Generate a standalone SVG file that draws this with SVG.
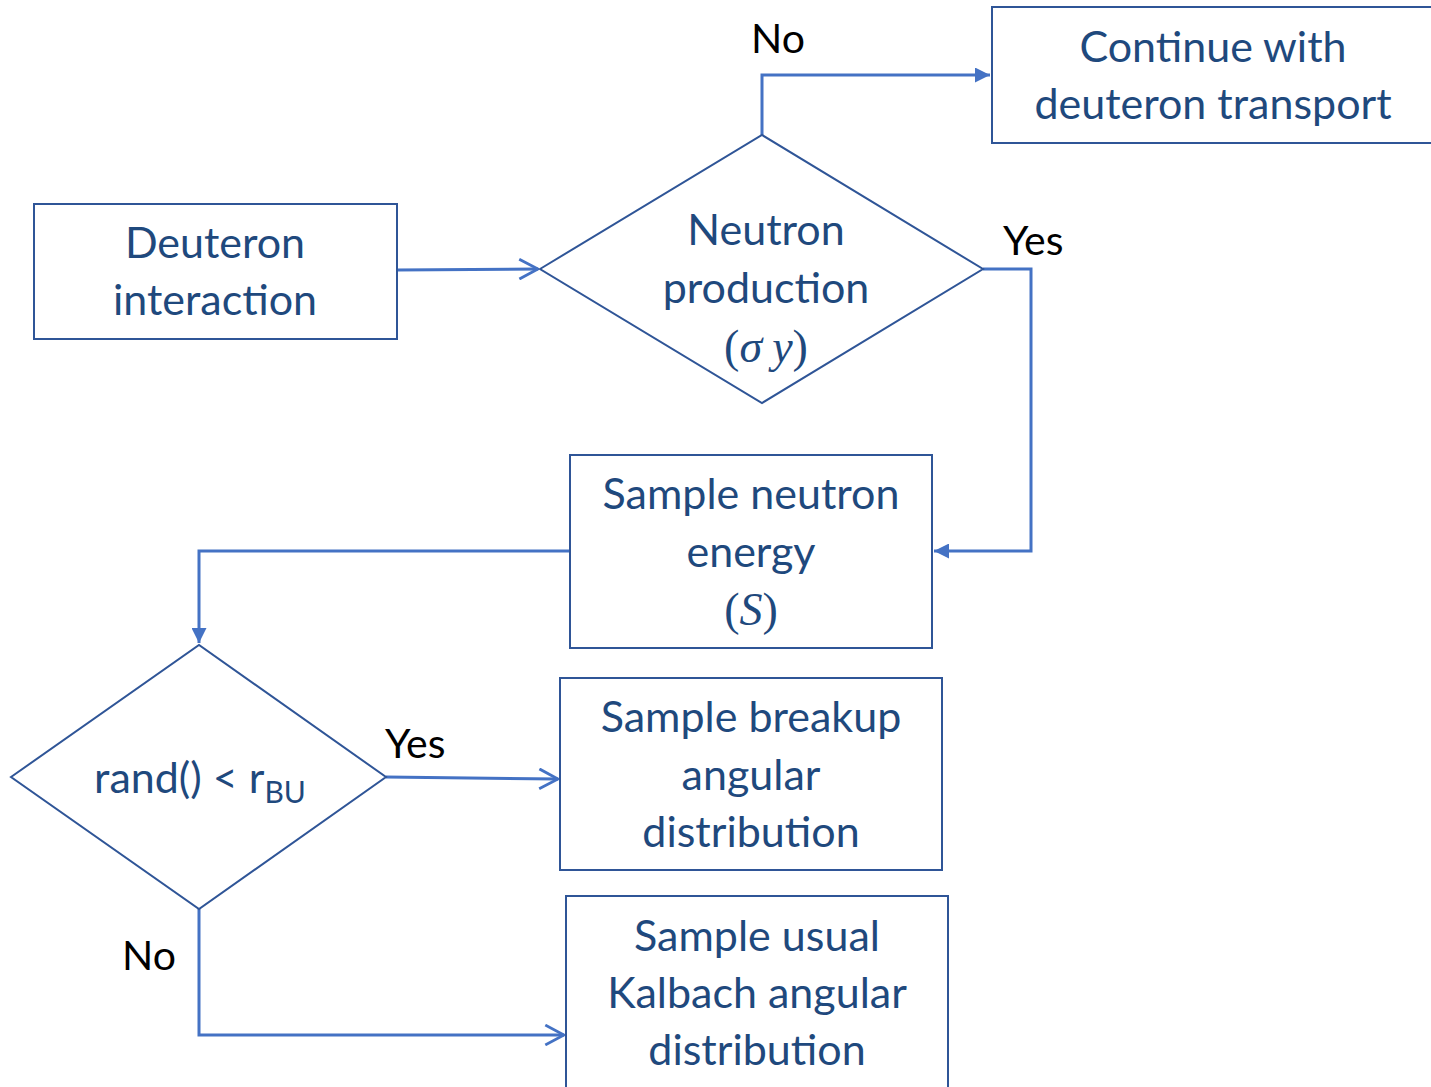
<svg xmlns="http://www.w3.org/2000/svg" width="1431" height="1087" viewBox="0 0 1431 1087">
<style>
.box{fill:#fff;stroke:#2F5597;stroke-width:2}
.t{font-family:Lato,"Liberation Sans",sans-serif;font-size:43px;fill:#1F497D;text-anchor:middle}
.mt{font-family:"Liberation Serif",serif;font-size:46px;fill:#1F497D;text-anchor:middle}
.m{font-style:italic}
.lbl{font-family:Lato,"Liberation Sans",sans-serif;font-size:41px;fill:#000}
.c{fill:none;stroke:#4472C4;stroke-width:3}
</style>
<defs>
<marker id="fa" viewBox="0 0 10 10" refX="10" refY="5" markerWidth="5" markerHeight="5" orient="auto" markerUnits="strokeWidth"><path d="M0,0 L10,5 L0,10 Z" fill="#4472C4"/></marker>
<marker id="oa" viewBox="0 0 10 10" refX="9.5" refY="5" markerWidth="22" markerHeight="22" orient="auto" markerUnits="userSpaceOnUse"><path d="M1,0.5 L9.5,5 L1,9.5" fill="none" stroke="#4472C4" stroke-width="1.3"/></marker>
</defs>
<g id="connectors">
<path class="c" d="M397,270 L538,269" marker-end="url(#oa)"/>
<path class="c" d="M762,135 L762,75 L990,75" marker-end="url(#fa)"/>
<path class="c" d="M983,269 L1031,269 L1031,551 L934,551" marker-end="url(#fa)"/>
<path class="c" d="M570,551 L199,551 L199,643" marker-end="url(#fa)"/>
<path class="c" d="M386,777 L558,779" marker-end="url(#oa)"/>
<path class="c" d="M199,909 L199,1035 L564,1035" marker-end="url(#oa)"/>
<text class="lbl" x="751" y="53">No</text>
<text class="lbl" x="1003" y="255">Yes</text>
<text class="lbl" x="385" y="758">Yes</text>
<text class="lbl" x="122" y="970">No</text>
</g>
<g id="continue">
<rect class="box" x="992" y="7" width="440" height="136"/>
<text class="t" x="1213" y="62">Continue with</text>
<text class="t" x="1213" y="119">deuteron transport</text>
</g>
<g id="deuteron">
<rect class="box" x="34" y="204" width="363" height="135"/>
<text class="t" x="215" y="258">Deuteron</text>
<text class="t" x="215" y="315">interaction</text>
</g>
<g id="neutron-production">
<path class="box" d="M540,269 L762,135 L983,269 L762,403 Z"/>
<text class="t" x="766" y="245">Neutron</text>
<text class="t" x="766" y="303">production</text>
<text class="mt" x="766" y="362">(<tspan class="m">σ</tspan><tspan class="m" dx="10">y</tspan>)</text>
</g>
<g id="sample-energy">
<rect class="box" x="570" y="455" width="362" height="193"/>
<text class="t" x="751" y="509">Sample neutron</text>
<text class="t" x="751" y="567">energy</text>
<text class="mt" x="751" y="625">(<tspan class="m">S</tspan>)</text>
</g>
<g id="rand">
<path class="box" d="M11,777 L199,645 L386,777 L199,909 Z"/>
<text class="t" x="200" y="793">rand() &lt; r<tspan font-size="30" dy="10">BU</tspan></text>
</g>
<g id="breakup">
<rect class="box" x="560" y="678" width="382" height="192"/>
<text class="t" x="751" y="732">Sample breakup</text>
<text class="t" x="751" y="790">angular</text>
<text class="t" x="751" y="847">distribution</text>
</g>
<g id="kalbach">
<rect class="box" x="566" y="896" width="382" height="200"/>
<text class="t" x="757" y="951">Sample usual</text>
<text class="t" x="757" y="1008">Kalbach angular</text>
<text class="t" x="757" y="1065">distribution</text>
</g>
</svg>
